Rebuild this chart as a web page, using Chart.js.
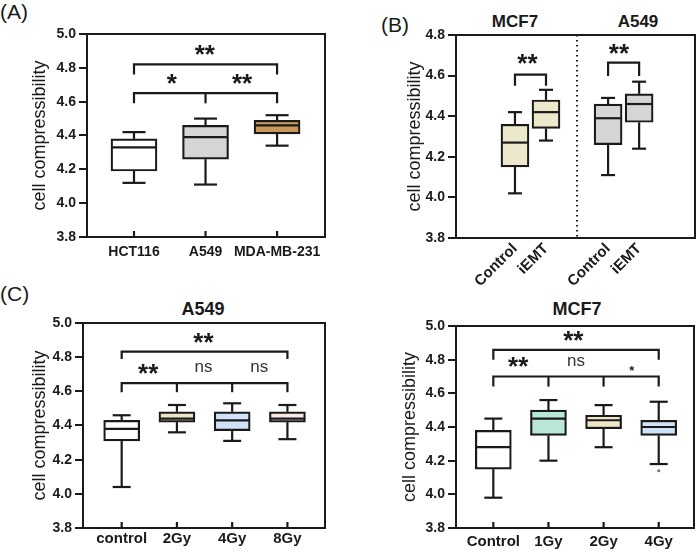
<!DOCTYPE html>
<html>
<head>
<meta charset="utf-8">
<script src="https://cdn.jsdelivr.net/npm/chart.js@4.4.1/dist/chart.umd.min.js"></script>
<style>
  body { margin: 0; background: #fff; width: 700px; height: 559px; position: relative; overflow: hidden;
         font-family: "Liberation Sans", Arial, sans-serif; color: #1a1a1a; }
  canvas { position: absolute; }
  .lbl { position: absolute; font-size: 21px; line-height: 1; }
  .ttl { position: absolute; font-weight: bold; line-height: 1; transform: translateX(-50%); white-space: nowrap; }
</style>
</head>
<body>
<div class="lbl" style="left:0px; top:1px;">(A)</div>
<div class="lbl" style="left:381px; top:14px;">(B)</div>
<div class="lbl" style="left:0px; top:283px;">(C)</div>

<div class="ttl" style="left:515px; top:13px; font-size:17px;">MCF7</div>
<div class="ttl" style="left:638px; top:13px; font-size:17px;">A549</div>
<div class="ttl" style="left:203px; top:300px; font-size:18px;">A549</div>
<div class="ttl" style="left:577px; top:300px; font-size:18px;">MCF7</div>

<canvas id="chartA" width="345" height="280" style="left:0px; top:0px;"></canvas>
<canvas id="chartB" width="350" height="295" style="left:350px; top:0px;"></canvas>
<canvas id="chartC" width="345" height="279" style="left:0px; top:280px;"></canvas>
<canvas id="chartD" width="350" height="279" style="left:350px; top:280px;"></canvas>

<script>
// ---- (A) three cell lines
const catsA = ["HCT116", "A549", "MDA-MB-231"];
const posA  = [0, 1, 2];
const minA  = [4.12, 4.11, 4.34];
const q1A   = [4.19, 4.26, 4.41];
const medA  = [4.33, 4.39, 4.46];
const q3A   = [4.38, 4.46, 4.49];
const maxA  = [4.42, 4.50, 4.52];
const colorsA = ["#ffffff", "#d5d5d5", "#c9975a"];

// ---- (B) control vs iEMT, MCF7 left and A549 right
const catsB = ["Control", "iEMT", "Control", "iEMT"];
const posB  = [1, 2, 4, 5];
const minB  = [4.02, 4.28, 4.11, 4.24];
const q1B   = [4.15, 4.34, 4.26, 4.37];
const medB  = [4.27, 4.42, 4.39, 4.46];
const q3B   = [4.36, 4.48, 4.46, 4.51];
const maxB  = [4.42, 4.53, 4.49, 4.57];
const colorsB = ["#ede7cb", "#ede7cb", "#d5d5d5", "#d5d5d5"];

// ---- (C) A549 irradiation
const catsC = ["control", "2Gy", "4Gy", "8Gy"];
const posC  = [0, 1, 2, 3];
const minC  = [4.04, 4.36, 4.31, 4.32];
const q1C   = [4.31, 4.42, 4.37, 4.42];
const medC  = [4.38, 4.44, 4.43, 4.44];
const q3C   = [4.43, 4.48, 4.48, 4.48];
const maxC  = [4.46, 4.52, 4.53, 4.52];
const colorsC = ["#ffffff", "#ece6c8", "#cfe2f7", "#fde6e6"];

// ---- (C, right) MCF7 irradiation
const catsD = ["Control", "1Gy", "2Gy", "4Gy"];
const posD  = [0, 1, 2, 3];
const minD  = [3.98, 4.20, 4.28, 4.18];
const q1D   = [4.15, 4.35, 4.39, 4.35];
const medD  = [4.28, 4.45, 4.44, 4.40];
const q3D   = [4.38, 4.50, 4.47, 4.44];
const maxD  = [4.45, 4.56, 4.53, 4.55];
const outliersD = [[3, 4.14]];
const colorsD = ["#ffffff", "#b9e9d6", "#ede6c9", "#cee2f7"];

// significance brackets: [x positions], bar level, tip level
const bracketsA = [[[0, 1, 2], 4.65, 4.59], [[0, 2], 4.82, 4.76]];
const bracketsB = [[[1, 2], 4.605, 4.55], [[4, 5], 4.664, 4.598]];
const bracketsC = [[[0, 1, 2, 3], 4.648, 4.595], [[0, 3], 4.833, 4.79]];
const bracketsD = [[[0, 1, 2, 3], 4.70, 4.64], [[0, 3], 4.858, 4.80]];

// significance labels: x, y (centre), text
const marksA = [[0.53, 4.745, "*"], [1.51, 4.745, "**"], [0.99, 4.915, "**"]];
const marksB = [[1.4, 4.687, "**"], [4.35, 4.736, "**"]];
const marksC = [[1.48, 4.92, "**"], [0.48, 4.74, "**"], [1.48, 4.74, "ns"], [2.49, 4.74, "ns"]];
const marksD = [[1.45, 4.947, "**"], [0.45, 4.795, "**"], [1.5, 4.79, "ns"], [2.51, 4.75, "*small"]];

const ink = "#1a1a1a";
Chart.defaults.font.family = '"Liberation Sans", Arial, sans-serif';
Chart.defaults.color = ink;

// draws medians, whiskers, brackets, stars and the closed frame
const boxExtras = {
  id: "boxExtras",
  afterDatasetsDraw(chart, args, o) {
    const { ctx, chartArea: a, scales: { x, y } } = chart;
    const line = (x1, y1, x2, y2) => { ctx.beginPath(); ctx.moveTo(x1, y1); ctx.lineTo(x2, y2); ctx.stroke(); };
    ctx.save();
    ctx.strokeStyle = ink;
    ctx.lineWidth = 2.2;
    ctx.lineCap = "butt";

    if (o.divider != null) {
      ctx.save();
      ctx.lineWidth = 2;
      ctx.setLineDash([1.5, 3.5]);
      const dx = x.getPixelForValue(o.divider);
      line(dx, a.top, dx, a.bottom);
      ctx.restore();
    }

    o.pos.forEach((p, i) => {
      const cx = x.getPixelForValue(p);
      const half = o.boxW / 2, cap = o.boxW / 4;
      const ym = y.getPixelForValue(o.med[i]);
      line(cx - half + 1, ym, cx + half - 1, ym);
      line(cx, y.getPixelForValue(o.q3[i]), cx, y.getPixelForValue(o.max[i]));
      line(cx - cap, y.getPixelForValue(o.max[i]), cx + cap, y.getPixelForValue(o.max[i]));
      line(cx, y.getPixelForValue(o.q1[i]), cx, y.getPixelForValue(o.min[i]));
      line(cx - cap, y.getPixelForValue(o.min[i]), cx + cap, y.getPixelForValue(o.min[i]));
      if (o.innerTicks) line(cx, a.bottom, cx, a.bottom - 6);
    });

    (o.outliers || []).forEach(([px, py]) => {
      ctx.fillStyle = "#777";
      ctx.beginPath();
      ctx.arc(x.getPixelForValue(px), y.getPixelForValue(py), 1.6, 0, Math.PI * 2);
      ctx.fill();
    });

    o.brackets.forEach(([xs, level, tip]) => {
      const yy = y.getPixelForValue(level), yt = y.getPixelForValue(tip);
      const px = xs.map(v => x.getPixelForValue(v));
      ctx.beginPath();
      ctx.moveTo(px[0], yt);
      ctx.lineTo(px[0], yy);
      ctx.lineTo(px[px.length - 1], yy);
      ctx.lineTo(px[px.length - 1], yt);
      ctx.stroke();
      px.slice(1, -1).forEach(m => line(m, yy, m, yt));
    });

    ctx.fillStyle = ink;
    ctx.textAlign = "center";
    ctx.textBaseline = "alphabetic";
    o.marks.forEach(([mx, my, t]) => {
      const px = x.getPixelForValue(mx), py = y.getPixelForValue(my);
      if (t === "ns") {
        ctx.font = '17px "Liberation Sans", Arial, sans-serif';
        ctx.fillStyle = "#333";
        ctx.fillText("ns", px, py + 4.5);
      } else if (t === "*small") {
        ctx.font = 'bold 13px "Liberation Sans", Arial, sans-serif';
        ctx.fillStyle = ink;
        ctx.fillText("*", px, py + 7);
      } else {
        ctx.font = 'bold 26px "Liberation Sans", Arial, sans-serif';
        ctx.fillStyle = ink;
        ctx.fillText(t, px, py + 14.5);
      }
    });

    ctx.lineWidth = 2;
    ctx.strokeRect(a.left, a.top, a.right - a.left, a.bottom - a.top);
    ctx.restore();
  }
};

function buildBoxChart(id, p) {
  new Chart(document.getElementById(id), {
    type: "bar",
    data: {
      datasets: [{
        data: p.pos.map((x, i) => ({ x: x, y: [p.q1[i], p.q3[i]] })),
        backgroundColor: p.colors,
        borderColor: ink,
        borderWidth: 2.2,
        borderSkipped: false,
        barThickness: p.boxW
      }]
    },
    options: {
      responsive: false,
      animation: false,
      layout: { padding: { top: p.padT, right: p.padR, bottom: p.padB, left: 0 } },
      plugins: {
        legend: { display: false },
        tooltip: { enabled: false },
        boxExtras: {
          pos: p.pos, min: p.min, q1: p.q1, med: p.med, q3: p.q3, max: p.max,
          boxW: p.boxW, brackets: p.brackets, marks: p.marks, outliers: p.outliers,
          divider: p.divider, innerTicks: p.innerTicks
        }
      },
      scales: {
        x: {
          type: "linear",
          offset: false,
          min: p.xMin,
          max: p.xMax,
          afterBuildTicks: s => { s.ticks = p.pos.map(v => ({ value: v })); },
          afterFit: s => { s.height = p.xH; },
          ticks: {
            callback: (v, i) => p.cats[i],
            autoSkip: false,
            maxRotation: p.rot,
            minRotation: p.rot,
            padding: p.xPad,
            font: { size: p.xFont, weight: "bold" },
            color: ink
          },
          grid: { display: false, drawTicks: false, offset: false },
          border: { display: true, color: ink, width: 2 }
        },
        y: {
          min: 3.8,
          max: p.yMax,
          afterFit: s => { s.width = p.yW; },
          ticks: {
            stepSize: 0.2,
            callback: v => v.toFixed(1),
            padding: 3,
            font: { size: 14, weight: "bold" },
            color: ink
          },
          grid: { drawOnChartArea: false, tickLength: 8, color: ink, lineWidth: 2 },
          border: { display: true, color: ink, width: 2 },
          title: {
            display: true,
            text: "cell compressibility",
            font: { size: 18 },
            color: ink,
            padding: { top: p.titlePad, bottom: 0 }
          }
        }
      }
    },
    plugins: [boxExtras]
  });
}

buildBoxChart("chartA", {
  cats: catsA, pos: posA, min: minA, q1: q1A, med: medA, q3: q3A, max: maxA, colors: colorsA,
  brackets: bracketsA, marks: marksA, boxW: 46, xMin: -0.657, xMax: 2.67, yMax: 5.0,
  padT: 34, padR: 20, padB: 13, xH: 30, yW: 87, titlePad: 29, xPad: 7, xFont: 14, rot: 0, innerTicks: true
});

buildBoxChart("chartB", {
  cats: catsB, pos: posB, min: minB, q1: q1B, med: medB, q3: q3B, max: maxB, colors: colorsB,
  brackets: bracketsB, marks: marksB, boxW: 28, xMin: -0.9, xMax: 6.8, yMax: 4.8,
  padT: 35, padR: 5, padB: 7, xH: 50, yW: 106, titlePad: 54, xPad: 2, xFont: 15, rot: 45,
  divider: 3, innerTicks: false
});

buildBoxChart("chartC", {
  cats: catsC, pos: posC, min: minC, q1: q1C, med: medC, q3: q3C, max: maxC, colors: colorsC,
  brackets: bracketsC, marks: marksC, boxW: 36, xMin: -0.70, xMax: 3.68, yMax: 5.0,
  padT: 43, padR: 20, padB: 6, xH: 25, yW: 83, titlePad: 29, xPad: 2, xFont: 15, rot: 0, innerTicks: true
});

buildBoxChart("chartD", {
  cats: catsD, pos: posD, min: minD, q1: q1D, med: medD, q3: q3D, max: maxD, colors: colorsD,
  outliers: outliersD, brackets: bracketsD, marks: marksD, boxW: 36, xMin: -0.677, xMax: 3.64, yMax: 5.0,
  padT: 46, padR: 6, padB: 6, xH: 25, yW: 106, titlePad: 49, xPad: 5, xFont: 15, rot: 0, innerTicks: true
});
</script>
</body>
</html>
